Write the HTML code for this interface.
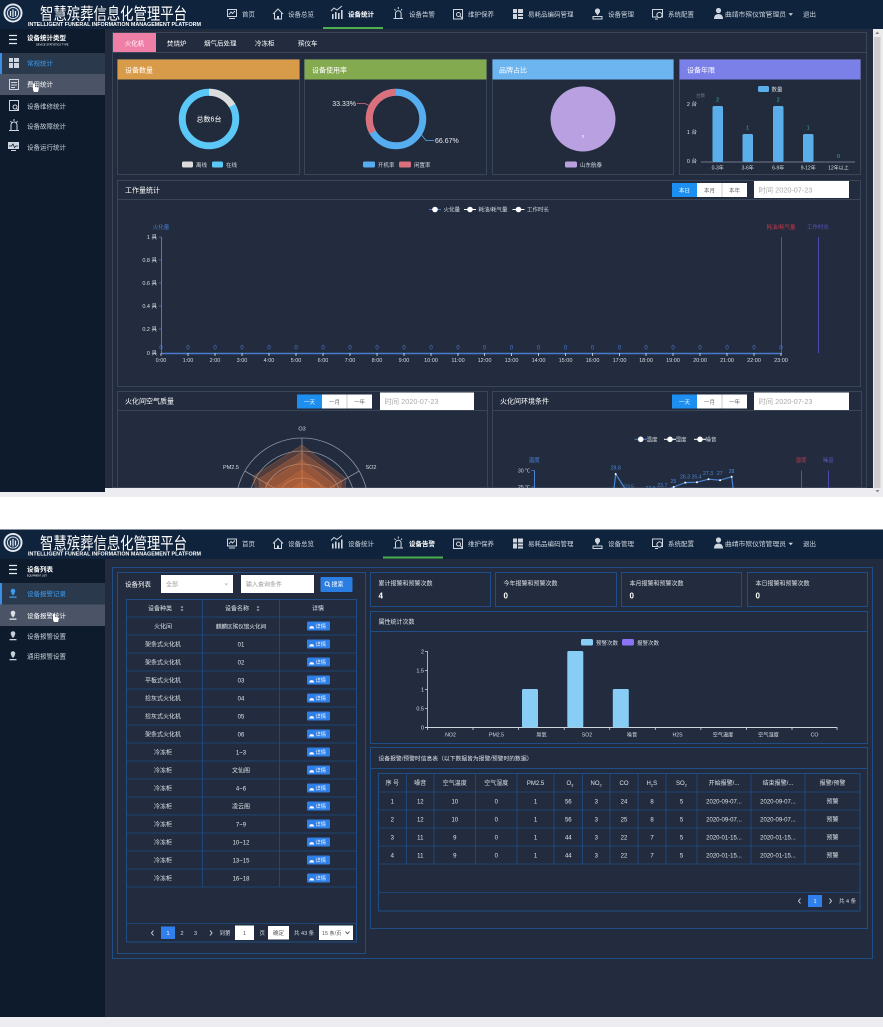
<!DOCTYPE html>
<html><head><meta charset="utf-8">
<style>
html,body{margin:0;padding:0;background:#fff;width:883px;height:1027px;overflow:hidden}
svg{display:block}
text{font-family:"Liberation Sans","Noto Sans CJK SC",sans-serif;font-size:6px;fill:#d6dce4}
.c{text-anchor:middle}.e{text-anchor:end}.w{fill:#fff}
.nav{font-size:6.5px;fill:#cfd6e0}
.ic{fill:none;stroke:#cfd6e0;stroke-width:1}
.icf{fill:#cfd6e0}
.b1{fill:none;stroke:#394658}
.b2{fill:none;stroke:#1f4e86}
.sm{font-size:5.5px}
.tb{font-size:6px;fill:#e0e4ea}
</style></head><body>
<svg width="883" height="1027" viewBox="0 0 883 1027" xmlns="http://www.w3.org/2000/svg">
<defs>
<clipPath id="c1"><rect x="105" y="29" width="768" height="459"/></clipPath>
</defs>
<rect width="883" height="1027" fill="#fff"/>

<!-- ================= SHOT 1 ================= -->
<g>
<rect x="0" y="0" width="883" height="29" fill="#0f233c"/>
<circle cx="13" cy="13" r="9.5" fill="#e6ebf1"/>
<circle cx="13" cy="13" r="7.6" fill="#1d3856"/>
<circle cx="13" cy="13" r="5.6" fill="none" stroke="#e6ebf1" stroke-width="0.9"/>
<path d="M10.5 16V11M13 17V9.5M15.5 16V11" stroke="#e6ebf1" stroke-width="1.2"/>
<text x="40" y="19.5" class="w" style="font-size:16.5px" textLength="147" lengthAdjust="spacingAndGlyphs">智慧殡葬信息化管理平台</text>
<text x="28" y="26" class="w" style="font-size:5.6px;font-weight:bold" textLength="173" lengthAdjust="spacingAndGlyphs">INTELLIGENT FUNERAL INFORMATION MANAGEMENT PLATFORM</text>
<!-- nav icons -->
<rect x="227.5" y="9.5" width="9" height="7" class="ic"/><polyline points="229,14.5 231,12 232.5,13.5 235,11" class="ic"/><line x1="229" y1="18.5" x2="235" y2="18.5" class="ic"/>
<path d="M273 14L278 9L283 14M274.5 13V19H281.5V13" class="ic"/><rect x="277" y="16" width="2" height="3" class="icf"/>
<path d="M331 11L334 8L337 10L342 6" class="ic"/><rect x="332" y="14" width="1.6" height="5" class="icf"/><rect x="335" y="12" width="1.6" height="7" class="icf"/><rect x="338" y="13" width="1.6" height="6" class="icf"/><rect x="341" y="10" width="1.6" height="9" class="icf"/>
<path d="M395.5 18V13.5A2.8 2.8 0 0 1 401.1 13.5V18M393.5 18.5H403M398.3 7V9M394.5 9L395.5 10.5M402 9L401 10.5" class="ic"/>
<rect x="453.5" y="9.5" width="9" height="9.5" class="ic"/><circle cx="458.5" cy="14.5" r="2" class="ic"/><line x1="460" y1="16" x2="462.5" y2="18.5" class="ic"/>
<rect x="513" y="9" width="4" height="4" class="icf"/><rect x="518" y="9" width="5" height="4" class="icf"/><rect x="513" y="14" width="4" height="5" class="icf"/><rect x="518" y="14" width="5" height="2" class="icf"/><rect x="518" y="17" width="5" height="2" class="icf"/>
<circle cx="597.5" cy="11" r="2.6" class="icf"/><path d="M595.3 12.3L597.5 15.5L599.7 12.3Z" class="icf"/><rect x="593" y="16.5" width="9" height="2.5" class="ic"/>
<rect x="652.5" y="9.5" width="10" height="7.5" class="ic"/><circle cx="659.5" cy="15" r="2.6" fill="#0f233c" stroke="#cfd6e0"/><line x1="655" y1="19" x2="658" y2="19" class="ic"/>
<circle cx="718.5" cy="10.5" r="2.6" class="icf"/><path d="M714 19Q714 14 718.5 14Q723 14 723 19Z" class="icf"/>
<text x="242" y="16.5" class="nav">首页</text>
<text x="288" y="16.5" class="nav">设备总览</text>
<text x="348" y="16.5" class="nav" style="fill:#fff;font-weight:bold">设备统计</text>
<text x="409" y="16.5" class="nav">设备告警</text>
<text x="468" y="16.5" class="nav">维护保养</text>
<text x="528" y="16.5" class="nav">易耗品编码管理</text>
<text x="608" y="16.5" class="nav">设备管理</text>
<text x="668" y="16.5" class="nav">系统配置</text>
<text x="725" y="16.5" class="nav" textLength="61" lengthAdjust="spacingAndGlyphs">曲靖市殡仪馆管理员</text>
<path d="M788.5 13.2H793L790.75 15.8Z" class="icf"/>
<text x="803" y="16.5" class="nav">退出</text>
<rect x="323" y="27" width="60" height="2" fill="#4caf50"/>

<!-- sidebar -->
<rect x="0" y="29" width="105" height="463" fill="#0d1b2d"/>
<path d="M9 35.5H17M9 39.5H17M9 43.5H17" stroke="#e6ebf1" stroke-width="1.2"/>
<text x="27" y="40" class="w" style="font-size:6.5px;font-weight:bold">设备统计类型</text>
<text x="36" y="45.5" class="w" style="font-size:2.6px">DEVICE STATISTICS TYPE</text>
<rect x="0" y="53" width="105" height="21" fill="#2a394c"/>
<rect x="0" y="53" width="2" height="21" fill="#3a8ee6"/>
<rect x="0" y="74" width="105" height="21" fill="#4b5366"/>
<rect x="9" y="58" width="4" height="4" class="icf"/><rect x="14" y="58" width="5" height="4" class="icf"/><rect x="9" y="63" width="4" height="5" class="icf"/><rect x="14" y="63" width="5" height="5" class="icf"/>
<text x="27" y="65.5" style="font-size:6.5px;fill:#3d9bf0">常规统计</text>
<rect x="9.5" y="79.5" width="9" height="10" class="ic"/><path d="M11 82.5H17M11 85H17M11 87.5H15" class="ic"/>
<text x="27" y="86.5" class="w" style="font-size:6.5px">费用统计</text>
<path d="M33 90V84.5a1 1 0 0 1 2 0V87l3 .5a1 1 0 0 1 .8 1.2L38 92H34Z" fill="#fff"/>
<rect x="9.5" y="100.5" width="9" height="10" class="ic"/><circle cx="15" cy="107" r="2" class="ic"/><line x1="16.3" y1="108.3" x2="18.5" y2="110.5" class="ic"/>
<text x="27" y="108.5" style="font-size:6.5px;fill:#c8d0da">设备维修统计</text>
<path d="M11 130V125A3 3 0 0 1 17 125V130M9 130.5H19M14 119V121M10.5 121L11.5 122.5M17.5 121L16.5 122.5" class="ic"/>
<text x="27" y="128.5" style="font-size:6.5px;fill:#c8d0da">设备故障统计</text>
<rect x="8" y="142" width="11" height="7" class="icf"/><polyline points="9,146 11.5,146 13,144 14.5,147.5 16,146 18,146" fill="none" stroke="#0d1b2d" stroke-width="0.8"/><line x1="11" y1="150.5" x2="16" y2="150.5" class="ic"/>
<text x="27" y="149.5" style="font-size:6.5px;fill:#c8d0da">设备运行统计</text>

<!-- main -->
<rect x="105" y="29" width="768" height="463" fill="#222c3e"/>
<rect x="112.5" y="32.5" width="754" height="455" class="b1"/>
<line x1="113" y1="52.5" x2="866" y2="52.5" stroke="#394658"/>
<rect x="113" y="33" width="43" height="19" fill="#f07fa7"/>
<text x="134.5" y="45.5" class="w c" style="font-size:6.5px">火化机</text>
<text x="167" y="45.5" class="w" style="font-size:6.5px">焚烧炉</text>
<text x="204" y="45.5" class="w" style="font-size:6.5px">烟气后处理</text>
<text x="255" y="45.5" class="w" style="font-size:6.5px">冷冻柜</text>
<text x="298" y="45.5" class="w" style="font-size:6.5px">殡仪车</text>

<!-- cards -->
<rect x="117.5" y="59.5" width="182" height="115" fill="#212b3c" stroke="#394658"/>
<rect x="117.5" y="59.5" width="182" height="20" fill="#d89b4a"/>
<text x="125" y="72.5" class="w" style="font-size:7px">设备数量</text>
<rect x="304.5" y="59.5" width="182" height="115" fill="#212b3c" stroke="#394658"/>
<rect x="304.5" y="59.5" width="182" height="20" fill="#84aa50"/>
<text x="312" y="72.5" class="w" style="font-size:7px">设备使用率</text>
<rect x="492.5" y="59.5" width="181" height="115" fill="#212b3c" stroke="#394658"/>
<rect x="492.5" y="59.5" width="181" height="20" fill="#6cb5f0"/>
<text x="499" y="72.5" class="w" style="font-size:7px">品牌占比</text>
<rect x="679.5" y="59.5" width="181" height="115" fill="#212b3c" stroke="#394658"/>
<rect x="679.5" y="59.5" width="181" height="20" fill="#7b7fe8"/>
<text x="687" y="72.5" class="w" style="font-size:7px">设备年限</text>

<!-- donut 1 -->
<circle cx="209" cy="119" r="26.75" fill="none" stroke="#5bc8f8" stroke-width="7"/>
<circle cx="209" cy="119" r="26.75" fill="none" stroke="#dcdcdc" stroke-width="7" stroke-dasharray="28.01 200" transform="rotate(-90 209 119)"/>
<text x="209" y="121.5" class="w c" style="font-size:7px">总数6台</text>
<rect x="182" y="161.5" width="11" height="6" rx="1.5" fill="#dcdcdc"/><text x="196" y="167" class="sm">离线</text>
<rect x="212" y="161.5" width="11" height="6" rx="1.5" fill="#5bc8f8"/><text x="226" y="167" class="sm">在线</text>

<!-- donut 2 -->
<circle cx="396" cy="119" r="26.75" fill="none" stroke="#56aef0" stroke-width="7"/>
<circle cx="396" cy="119" r="26.75" fill="none" stroke="#d9707c" stroke-width="7" stroke-dasharray="56.03 200" stroke-dashoffset="-112.05" transform="rotate(-90 396 119)"/>
<polyline points="357,103.5 365,103.5 371,106.5" fill="none" stroke="#d9707c" stroke-width="0.8"/>
<text x="356" y="106" class="e" style="font-size:7px;fill:#e6e9ee">33.33%</text>
<polyline points="419.5,132.5 426,140.5 434,140.5" fill="none" stroke="#56aef0" stroke-width="0.8"/>
<text x="435" y="143" style="font-size:7px;fill:#e6e9ee">66.67%</text>
<rect x="363" y="161.5" width="12" height="6" rx="1.5" fill="#56aef0"/><text x="378" y="167" class="sm">开机率</text>
<rect x="399" y="161.5" width="12" height="6" rx="1.5" fill="#d9707c"/><text x="414" y="167" class="sm">闲置率</text>

<!-- pie -->
<circle cx="583" cy="119" r="32.5" fill="#b9a1e1"/>
<text x="583" y="137.5" class="w c" style="font-size:4px">6</text>
<rect x="565" y="161.5" width="12" height="6" rx="1.5" fill="#b9a1e1"/><text x="580" y="167" class="sm">山东航泰</text>

<!-- bar card -->
<rect x="758" y="86" width="11" height="6" rx="1.5" fill="#5aaeea"/><text x="771.5" y="91.5" class="sm">数量</text>
<text x="696" y="97" class="sm" style="fill:#6a7585;font-size:4.5px">台数</text>
<text x="697" y="106" class="e sm">2 台</text>
<text x="697" y="134" class="e sm">1 台</text>
<text x="697" y="163" class="e sm">0 台</text>
<line x1="701" y1="162" x2="855" y2="162" stroke="#8a96a6" stroke-width="0.8"/>
<rect x="712.5" y="106" width="10.5" height="56" rx="1.5" fill="#5aaeea"/>
<rect x="742.5" y="134" width="10.5" height="28" rx="1.5" fill="#5aaeea"/>
<rect x="773" y="106" width="10.5" height="56" rx="1.5" fill="#5aaeea"/>
<rect x="803" y="134" width="10.5" height="28" rx="1.5" fill="#5aaeea"/>
<text x="717.7" y="101.5" class="c sm" style="fill:#36b3a0">2</text>
<text x="747.7" y="129.5" class="c sm" style="fill:#36b3a0">1</text>
<text x="778.2" y="101.5" class="c sm" style="fill:#36b3a0">2</text>
<text x="808.2" y="129.5" class="c sm" style="fill:#36b3a0">1</text>
<text x="838.5" y="158" class="c sm" style="fill:#36b3a0">0</text>
<text x="717.7" y="169.5" class="c" style="font-size:5px">0-3年</text>
<text x="747.7" y="169.5" class="c" style="font-size:5px">3-6年</text>
<text x="778.2" y="169.5" class="c" style="font-size:5px">6-9年</text>
<text x="808.2" y="169.5" class="c" style="font-size:5px">9-12年</text>
<text x="838.5" y="169.5" class="c" style="font-size:5px">12年以上</text>

<!-- work chart -->
<rect x="117.5" y="180.5" width="743" height="206" class="b1"/>
<line x1="118" y1="199.5" x2="860" y2="199.5" stroke="#394658"/>
<text x="125" y="192.5" class="w" style="font-size:7px">工作量统计</text>
<rect x="672" y="183" width="25" height="14" fill="#1d8ff0"/>
<rect x="697" y="183" width="50" height="14" fill="#fff"/>
<line x1="722" y1="183" x2="722" y2="197" stroke="#ccc"/>
<text x="684.5" y="192.3" class="w c sm">本日</text>
<text x="709.5" y="192.3" class="c sm" style="fill:#666">本月</text>
<text x="734.5" y="192.3" class="c sm" style="fill:#666">本年</text>
<rect x="754" y="181" width="95" height="17" fill="#fff"/>
<text x="758.5" y="192.5" style="font-size:7px;fill:#aaa" textLength="54" lengthAdjust="spacingAndGlyphs">时间 2020-07-23</text>
<!-- legend -->
<line x1="429" y1="209.5" x2="441" y2="209.5" stroke="#4a7ad0" stroke-width="1"/><circle cx="435" cy="209.5" r="2.8" fill="#fff"/><text x="443.5" y="211.5" class="sm">火化量</text>
<line x1="464" y1="209.5" x2="476" y2="209.5" stroke="#fff" stroke-width="1"/><circle cx="470" cy="209.5" r="2.8" fill="#fff"/><text x="478.5" y="211.5" class="sm">耗油/耗气量</text>
<line x1="512.5" y1="209.5" x2="524.5" y2="209.5" stroke="#fff" stroke-width="1"/><circle cx="518.5" cy="209.5" r="2.8" fill="#fff"/><text x="527" y="211.5" class="sm">工作时长</text>
<text x="161" y="229" class="c sm" style="fill:#4a7ad0">火化量</text>
<text x="781" y="229" class="c sm" style="fill:#c0394a">耗油/耗气量</text>
<text x="818" y="229" class="c sm" style="fill:#5a55c0">工作时长</text>
<line x1="161.5" y1="237" x2="161.5" y2="353" stroke="#4a7ad0"/>
<line x1="781.5" y1="237" x2="781.5" y2="353" stroke="#a8384a"/>
<line x1="818.5" y1="237" x2="818.5" y2="353" stroke="#4a4aa8"/>
<g>
<text x="157" y="239" class="e sm">1 具</text>
<text x="157" y="262" class="e sm">0.8 具</text>
<text x="157" y="285" class="e sm">0.6 具</text>
<text x="157" y="308" class="e sm">0.4 具</text>
<text x="157" y="331" class="e sm">0.2 具</text>
<text x="157" y="355" class="e sm">0 具</text>
</g>
<path d="M159 237H161.5M159 260H161.5M159 283H161.5M159 306H161.5M159 329H161.5" stroke="#4a7ad0" stroke-width="0.8"/>
<line x1="161" y1="353.5" x2="782" y2="353.5" stroke="#4a7ad0" stroke-width="1.5"/>
<path d="M161 353V356M188 353V356M215 353V356M242 353V356M269 353V356M296 353V356M323 353V356M350 353V356M377 353V356M404 353V356M431 353V356M458 353V356M484.5 353V356M511.5 353V356M538.5 353V356M565.5 353V356M592.5 353V356M619.5 353V356M646 353V356M673 353V356M700 353V356M727 353V356M754 353V356M781 353V356" stroke="#e0e4ea" stroke-width="0.8"/>
<g>
<text x="161" y="362" class="c sm">0:00</text><text x="188" y="362" class="c sm">1:00</text><text x="215" y="362" class="c sm">2:00</text><text x="242" y="362" class="c sm">3:00</text><text x="269" y="362" class="c sm">4:00</text><text x="296" y="362" class="c sm">5:00</text><text x="323" y="362" class="c sm">6:00</text><text x="350" y="362" class="c sm">7:00</text><text x="377" y="362" class="c sm">8:00</text><text x="404" y="362" class="c sm">9:00</text><text x="431" y="362" class="c sm">10:00</text><text x="458" y="362" class="c sm">11:00</text><text x="484.5" y="362" class="c sm">12:00</text><text x="511.5" y="362" class="c sm">13:00</text><text x="538.5" y="362" class="c sm">14:00</text><text x="565.5" y="362" class="c sm">15:00</text><text x="592.5" y="362" class="c sm">16:00</text><text x="619.5" y="362" class="c sm">17:00</text><text x="646" y="362" class="c sm">18:00</text><text x="673" y="362" class="c sm">19:00</text><text x="700" y="362" class="c sm">20:00</text><text x="727" y="362" class="c sm">21:00</text><text x="754" y="362" class="c sm">22:00</text><text x="781" y="362" class="c sm">23:00</text>
</g>
<g>
<text x="161" y="349.5" class="c" style="fill:#4a7ad0">0</text><text x="188" y="349.5" class="c" style="fill:#4a7ad0">0</text><text x="215" y="349.5" class="c" style="fill:#4a7ad0">0</text><text x="242" y="349.5" class="c" style="fill:#4a7ad0">0</text><text x="269" y="349.5" class="c" style="fill:#4a7ad0">0</text><text x="296" y="349.5" class="c" style="fill:#4a7ad0">0</text><text x="323" y="349.5" class="c" style="fill:#4a7ad0">0</text><text x="350" y="349.5" class="c" style="fill:#4a7ad0">0</text><text x="377" y="349.5" class="c" style="fill:#4a7ad0">0</text><text x="404" y="349.5" class="c" style="fill:#4a7ad0">0</text><text x="431" y="349.5" class="c" style="fill:#4a7ad0">0</text><text x="458" y="349.5" class="c" style="fill:#4a7ad0">0</text><text x="484.5" y="349.5" class="c" style="fill:#4a7ad0">0</text><text x="511.5" y="349.5" class="c" style="fill:#4a7ad0">0</text><text x="538.5" y="349.5" class="c" style="fill:#4a7ad0">0</text><text x="565.5" y="349.5" class="c" style="fill:#4a7ad0">0</text><text x="592.5" y="349.5" class="c" style="fill:#4a7ad0">0</text><text x="619.5" y="349.5" class="c" style="fill:#4a7ad0">0</text><text x="646" y="349.5" class="c" style="fill:#4a7ad0">0</text><text x="673" y="349.5" class="c" style="fill:#4a7ad0">0</text><text x="700" y="349.5" class="c" style="fill:#4a7ad0">0</text><text x="727" y="349.5" class="c" style="fill:#4a7ad0">0</text><text x="754" y="349.5" class="c" style="fill:#4a7ad0">0</text><text x="781" y="349.5" class="c" style="fill:#4a7ad0">0</text>
</g>

<!-- bottom panels -->
<g clip-path="url(#c1)">
<rect x="117.5" y="391.5" width="370" height="110" class="b1"/>
<line x1="118" y1="410.5" x2="487" y2="410.5" stroke="#394658"/>
<text x="125" y="403.5" class="w" style="font-size:7px">火化间空气质量</text>
<rect x="297" y="394.5" width="25" height="14" fill="#1d8ff0"/>
<rect x="322" y="394.5" width="50" height="14" fill="#fff"/>
<line x1="347" y1="394.5" x2="347" y2="408.5" stroke="#ccc"/>
<text x="309.5" y="403.8" class="w c sm">一天</text>
<text x="334.5" y="403.8" class="c sm" style="fill:#666">一月</text>
<text x="359.5" y="403.8" class="c sm" style="fill:#666">一年</text>
<rect x="380" y="392.5" width="94" height="17.5" fill="#fff"/>
<text x="384.5" y="404" style="font-size:7px;fill:#aaa" textLength="54" lengthAdjust="spacingAndGlyphs">时间 2020-07-23</text>

<rect x="492.5" y="391.5" width="369" height="110" class="b1"/>
<line x1="493" y1="410.5" x2="861" y2="410.5" stroke="#394658"/>
<text x="500" y="403.5" class="w" style="font-size:7px">火化间环境条件</text>
<rect x="672" y="394.5" width="25" height="14" fill="#1d8ff0"/>
<rect x="697" y="394.5" width="50" height="14" fill="#fff"/>
<line x1="722" y1="394.5" x2="722" y2="408.5" stroke="#ccc"/>
<text x="684.5" y="403.8" class="w c sm">一天</text>
<text x="709.5" y="403.8" class="c sm" style="fill:#666">一月</text>
<text x="734.5" y="403.8" class="c sm" style="fill:#666">一年</text>
<rect x="754" y="392.5" width="95" height="17.5" fill="#fff"/>
<text x="758.5" y="404" style="font-size:7px;fill:#aaa" textLength="54" lengthAdjust="spacingAndGlyphs">时间 2020-07-23</text>

<!-- radar -->
<g fill="none" stroke="#8a94a3" stroke-width="0.8">
<circle cx="302" cy="504" r="66"/><circle cx="302" cy="504" r="53"/><circle cx="302" cy="504" r="40"/><circle cx="302" cy="504" r="26"/><circle cx="302" cy="504" r="13"/>
<path d="M302 504V438M302 504L359.2 471M302 504L244.8 471"/>
</g>
<g fill="#e5733a" fill-opacity="0.26" stroke="#e88046" stroke-opacity="0.5" stroke-width="0.5">
<polygon points="302,445 346.2,478.5 341,526.5 302,544 260.4,528 253.5,476"/>
<polygon points="302,452 341.8,481 336.6,524 302,539 265.6,525 258.7,479"/>
<polygon points="302,460 334.9,485 331.4,521 302,534 270.8,522 265.6,483"/>
<polygon points="302,470 328,489 325.4,517.5 302,528 277.8,518 274.3,488"/>
<polygon points="302,482 319.3,494 317.6,513 302,520 286.4,513 283.8,493.5"/>
<polygon points="302,492 311.5,498.5 310.7,509 302,513 293.3,509 292.5,498.5"/>
</g>
<text x="302" y="430.5" class="c sm">O3</text>
<text x="231" y="469" class="c sm">PM2.5</text>
<text x="371" y="469" class="c sm">SO2</text>

<!-- env line chart -->
<line x1="634.7" y1="439.3" x2="646.7" y2="439.3" stroke="#4a86d8"/><circle cx="640.7" cy="439.3" r="2.8" fill="#fff"/><text x="646.5" y="441.3" class="sm">温度</text>
<line x1="664" y1="439.3" x2="676" y2="439.3" stroke="#fff"/><circle cx="670" cy="439.3" r="2.8" fill="#fff"/><text x="675.5" y="441.3" class="sm">湿度</text>
<line x1="694" y1="439.3" x2="706" y2="439.3" stroke="#fff"/><circle cx="700" cy="439.3" r="2.8" fill="#fff"/><text x="705.5" y="441.3" class="sm">噪音</text>
<text x="534.3" y="462" class="c sm" style="fill:#4a86d8">温度</text>
<text x="801" y="462" class="c sm" style="fill:#c0394a">湿度</text>
<text x="828.3" y="462" class="c sm" style="fill:#5a55c0">噪音</text>
<line x1="534.5" y1="470.5" x2="534.5" y2="495" stroke="#4a86d8"/>
<line x1="801.5" y1="470.5" x2="801.5" y2="495" stroke="#a8384a"/>
<line x1="828.5" y1="470.5" x2="828.5" y2="495" stroke="#4a4aa8"/>
<path d="M531.5 470.5H534.5M531.5 487H534.5" stroke="#4a86d8" stroke-width="0.8"/>
<text x="530" y="472.3" class="e" style="font-size:5px">30 ℃</text>
<text x="530" y="489" class="e" style="font-size:5px">25 ℃</text>
<polyline points="604.1,572 615.7,474.1 627.3,492.1 638.9,495.5 650.5,494 662.1,491.4 673.7,487 685.3,482.6 696.9,482.2 708.5,479.2 720.1,480.2 731.7,476.8 743.3,572" fill="none" stroke="#4a86d8" stroke-width="1.2"/>
<g fill="#fff"><circle cx="615.7" cy="474.1" r="1"/><circle cx="673.7" cy="487" r="1"/><circle cx="685.3" cy="482.6" r="1"/><circle cx="696.9" cy="482.2" r="1"/><circle cx="708.5" cy="479.2" r="1"/><circle cx="720.1" cy="480.2" r="1"/><circle cx="731.7" cy="476.8" r="1"/></g>
<g>
<text x="615.7" y="469.5" class="c" style="font-size:5.2px;fill:#4a86d8">28.8</text>
<text x="629" y="488.5" class="c" style="font-size:5.2px;fill:#4a86d8">23.5</text>
<text x="650.5" y="490" class="c" style="font-size:5.2px;fill:#4a86d8">22.9</text>
<text x="662.3" y="487" class="c" style="font-size:5.2px;fill:#4a86d8">23.7</text>
<text x="673.5" y="483" class="c" style="font-size:5.2px;fill:#4a86d8">25</text>
<text x="685" y="478.5" class="c" style="font-size:5.2px;fill:#4a86d8">26.3</text>
<text x="696.5" y="478.5" class="c" style="font-size:5.2px;fill:#4a86d8">26.4</text>
<text x="708" y="475" class="c" style="font-size:5.2px;fill:#4a86d8">27.3</text>
<text x="719.8" y="475" class="c" style="font-size:5.2px;fill:#4a86d8">27</text>
<text x="731.5" y="473" class="c" style="font-size:5.2px;fill:#4a86d8">28</text>
</g>
</g>

<!-- scrollbars -->
<rect x="873" y="29" width="10" height="459" fill="#ececec"/>
<rect x="874" y="37" width="6.5" height="451" fill="#cdcdcd"/>
<path d="M875.3 34L877.3 31.5L879.3 34Z" fill="#888"/>
<rect x="105" y="488" width="778" height="9" fill="#ececf1"/>
<rect x="0" y="492" width="105" height="5" fill="#ececf1"/>
<path d="M875.5 490L879.5 490L877.5 492.5Z" fill="#888"/>
</g>

<!-- ================= SHOT 2 ================= -->
<g transform="translate(0,529.5)">
<rect x="0" y="0" width="883" height="29.5" fill="#0f233c"/>
<circle cx="13" cy="13" r="9.5" fill="#e6ebf1"/>
<circle cx="13" cy="13" r="7.6" fill="#1d3856"/>
<circle cx="13" cy="13" r="5.6" fill="none" stroke="#e6ebf1" stroke-width="0.9"/>
<path d="M10.5 16V11M13 17V9.5M15.5 16V11" stroke="#e6ebf1" stroke-width="1.2"/>
<text x="40" y="19.5" class="w" style="font-size:16.5px" textLength="147" lengthAdjust="spacingAndGlyphs">智慧殡葬信息化管理平台</text>
<text x="28" y="26" class="w" style="font-size:5.6px;font-weight:bold" textLength="173" lengthAdjust="spacingAndGlyphs">INTELLIGENT FUNERAL INFORMATION MANAGEMENT PLATFORM</text>
<rect x="227.5" y="9.5" width="9" height="7" class="ic"/><polyline points="229,14.5 231,12 232.5,13.5 235,11" class="ic"/><line x1="229" y1="18.5" x2="235" y2="18.5" class="ic"/>
<path d="M273 14L278 9L283 14M274.5 13V19H281.5V13" class="ic"/><rect x="277" y="16" width="2" height="3" class="icf"/>
<path d="M331 11L334 8L337 10L342 6" class="ic"/><rect x="332" y="14" width="1.6" height="5" class="icf"/><rect x="335" y="12" width="1.6" height="7" class="icf"/><rect x="338" y="13" width="1.6" height="6" class="icf"/><rect x="341" y="10" width="1.6" height="9" class="icf"/>
<path d="M395.5 18V13.5A2.8 2.8 0 0 1 401.1 13.5V18M393.5 18.5H403M398.3 7V9M394.5 9L395.5 10.5M402 9L401 10.5" class="ic"/>
<rect x="453.5" y="9.5" width="9" height="9.5" class="ic"/><circle cx="458.5" cy="14.5" r="2" class="ic"/><line x1="460" y1="16" x2="462.5" y2="18.5" class="ic"/>
<rect x="513" y="9" width="4" height="4" class="icf"/><rect x="518" y="9" width="5" height="4" class="icf"/><rect x="513" y="14" width="4" height="5" class="icf"/><rect x="518" y="14" width="5" height="2" class="icf"/><rect x="518" y="17" width="5" height="2" class="icf"/>
<circle cx="597.5" cy="11" r="2.6" class="icf"/><path d="M595.3 12.3L597.5 15.5L599.7 12.3Z" class="icf"/><rect x="593" y="16.5" width="9" height="2.5" class="ic"/>
<rect x="652.5" y="9.5" width="10" height="7.5" class="ic"/><circle cx="659.5" cy="15" r="2.6" fill="#0f233c" stroke="#cfd6e0"/><line x1="655" y1="19" x2="658" y2="19" class="ic"/>
<circle cx="718.5" cy="10.5" r="2.6" class="icf"/><path d="M714 19Q714 14 718.5 14Q723 14 723 19Z" class="icf"/>
<text x="242" y="16.5" class="nav">首页</text>
<text x="288" y="16.5" class="nav">设备总览</text>
<text x="348" y="16.5" class="nav">设备统计</text>
<text x="409" y="16.5" class="nav" style="fill:#fff;font-weight:bold">设备告警</text>
<text x="468" y="16.5" class="nav">维护保养</text>
<text x="528" y="16.5" class="nav">易耗品编码管理</text>
<text x="608" y="16.5" class="nav">设备管理</text>
<text x="668" y="16.5" class="nav">系统配置</text>
<text x="725" y="16.5" class="nav" textLength="61" lengthAdjust="spacingAndGlyphs">曲靖市殡仪馆管理员</text>
<path d="M788.5 13.2H793L790.75 15.8Z" class="icf"/>
<text x="803" y="16.5" class="nav">退出</text>
<rect x="383" y="27" width="60" height="2" fill="#4caf50"/>
</g>

<!-- sidebar 2 -->
<rect x="0" y="559" width="105" height="458" fill="#0d1b2d"/>
<path d="M9 565.5H17M9 569.5H17M9 573.5H17" stroke="#e6ebf1" stroke-width="1.2"/>
<text x="27" y="571.5" class="w" style="font-size:6.5px;font-weight:bold">设备列表</text>
<text x="27" y="576.5" class="w" style="font-size:2.4px">EQUIPMENT LIST</text>
<rect x="0" y="583" width="105" height="21.5" fill="#2a394c"/>
<rect x="0" y="583" width="2" height="21.5" fill="#3a8ee6"/>
<rect x="0" y="604.5" width="105" height="21.5" fill="#4b5366"/>
<circle cx="13" cy="591" r="2.3" fill="#3d9bf0"/><path d="M11 593L13 595.5L15 593Z" fill="#3d9bf0"/><rect x="9.5" y="596.5" width="7" height="1.3" fill="#3d9bf0"/>
<text x="27" y="596" style="font-size:6.5px;fill:#3d9bf0">设备报警记录</text>
<circle cx="13" cy="613" r="2.3" fill="#e0e4ea"/><path d="M11 615L13 617.5L15 615Z" fill="#e0e4ea"/><rect x="9.5" y="618.5" width="7" height="1.3" fill="#e0e4ea"/>
<text x="27" y="618" class="w" style="font-size:6.5px">设备报警统计</text>
<path d="M53 620V614.5a1 1 0 0 1 2 0V617l3 .5a1 1 0 0 1 .8 1.2L58 622H54Z" fill="#fff"/>
<circle cx="13" cy="633.5" r="2.3" fill="#c8d0da"/><path d="M11 635.5L13 638L15 635.5Z" fill="#c8d0da"/><rect x="9.5" y="639" width="7" height="1.3" fill="#c8d0da"/>
<text x="27" y="638.5" style="font-size:6.5px;fill:#c8d0da">设备报警设置</text>
<circle cx="13" cy="653.5" r="2.3" fill="#c8d0da"/><path d="M11 655.5L13 658L15 655.5Z" fill="#c8d0da"/><rect x="9.5" y="659" width="7" height="1.3" fill="#c8d0da"/>
<text x="27" y="658.5" style="font-size:6.5px;fill:#c8d0da">通用报警设置</text>

<!-- main 2 -->
<rect x="105" y="559" width="778" height="458" fill="#222c3e"/>
<rect x="112.5" y="567.5" width="760" height="391" class="b2"/>
<rect x="117.5" y="572.5" width="248" height="381" class="b2"/>

<text x="125" y="586.5" class="w" style="font-size:6.5px">设备列表</text>
<rect x="161" y="575" width="72" height="18" fill="#fff"/>
<text x="166" y="586.5" style="font-size:6px;fill:#999">全部</text>
<path d="M224.5 583.5H228L226.25 585.5Z" fill="#bbb"/>
<rect x="241" y="575" width="73" height="18" fill="#fff"/>
<text x="246" y="586.5" style="font-size:6px;fill:#999">输入查询条件</text>
<rect x="320.5" y="577" width="32" height="15" fill="#2a7de1" rx="1"/>
<circle cx="327" cy="583.8" r="2" fill="none" stroke="#fff" stroke-width="0.9"/><line x1="328.4" y1="585.2" x2="330" y2="586.8" stroke="#fff" stroke-width="0.9"/>
<text x="331.5" y="586.5" class="w" style="font-size:6px">搜索</text>

<!-- left table -->
<rect x="126.5" y="599.5" width="230" height="342.5" class="b2"/>
<g stroke="#1f4e86" stroke-width="0.8">
<line x1="202.5" y1="600" x2="202.5" y2="887"/><line x1="279.5" y1="600" x2="279.5" y2="887"/>
<line x1="127" y1="617" x2="356" y2="617"/><line x1="127" y1="635" x2="356" y2="635"/><line x1="127" y1="653" x2="356" y2="653"/><line x1="127" y1="671" x2="356" y2="671"/><line x1="127" y1="689" x2="356" y2="689"/><line x1="127" y1="707" x2="356" y2="707"/><line x1="127" y1="725" x2="356" y2="725"/><line x1="127" y1="743" x2="356" y2="743"/><line x1="127" y1="761" x2="356" y2="761"/><line x1="127" y1="779" x2="356" y2="779"/><line x1="127" y1="797" x2="356" y2="797"/><line x1="127" y1="815" x2="356" y2="815"/><line x1="127" y1="833" x2="356" y2="833"/><line x1="127" y1="851" x2="356" y2="851"/><line x1="127" y1="869" x2="356" y2="869"/><line x1="127" y1="887" x2="356" y2="887"/>
<line x1="127" y1="923.5" x2="356" y2="923.5"/>
</g>
<text x="160" y="610.5" class="c tb">设备种类</text><path d="M180.5 607.5L182 606L183.5 607.5ZM180.5 609.5L182 611L183.5 609.5Z" fill="#c8d0da"/>
<text x="237" y="610.5" class="c tb">设备名称</text><path d="M256.5 607.5L258 606L259.5 607.5ZM256.5 609.5L258 611L259.5 609.5Z" fill="#c8d0da"/>
<text x="318" y="610.5" class="c tb">详情</text>
<g>
<text x="163" y="628.3" class="c tb">火化间</text><text x="241" y="628.3" class="c tb" style="font-size:5.6px">麒麟区殡仪馆火化间</text>
<text x="163" y="646.3" class="c tb">架条式火化机</text><text x="241" y="646.3" class="c tb">01</text>
<text x="163" y="664.3" class="c tb">架条式火化机</text><text x="241" y="664.3" class="c tb">02</text>
<text x="163" y="682.3" class="c tb">平板式火化机</text><text x="241" y="682.3" class="c tb">03</text>
<text x="163" y="700.3" class="c tb">捡灰式火化机</text><text x="241" y="700.3" class="c tb">04</text>
<text x="163" y="718.3" class="c tb">捡灰式火化机</text><text x="241" y="718.3" class="c tb">05</text>
<text x="163" y="736.3" class="c tb">架条式火化机</text><text x="241" y="736.3" class="c tb">06</text>
<text x="163" y="754.3" class="c tb">冷冻柜</text><text x="241" y="754.3" class="c tb">1~3</text>
<text x="163" y="772.3" class="c tb">冷冻柜</text><text x="241" y="772.3" class="c tb">文仙阁</text>
<text x="163" y="790.3" class="c tb">冷冻柜</text><text x="241" y="790.3" class="c tb">4~6</text>
<text x="163" y="808.3" class="c tb">冷冻柜</text><text x="241" y="808.3" class="c tb">凌云阁</text>
<text x="163" y="826.3" class="c tb">冷冻柜</text><text x="241" y="826.3" class="c tb">7~9</text>
<text x="163" y="844.3" class="c tb">冷冻柜</text><text x="241" y="844.3" class="c tb">10~12</text>
<text x="163" y="862.3" class="c tb">冷冻柜</text><text x="241" y="862.3" class="c tb">13~15</text>
<text x="163" y="880.3" class="c tb">冷冻柜</text><text x="241" y="880.3" class="c tb">16~18</text>
</g>
<g>
<rect x="307" y="621.5" width="23" height="9" rx="1" fill="#2e7fe8"/><rect x="307" y="639.5" width="23" height="9" rx="1" fill="#2e7fe8"/><rect x="307" y="657.5" width="23" height="9" rx="1" fill="#2e7fe8"/><rect x="307" y="675.5" width="23" height="9" rx="1" fill="#2e7fe8"/><rect x="307" y="693.5" width="23" height="9" rx="1" fill="#2e7fe8"/><rect x="307" y="711.5" width="23" height="9" rx="1" fill="#2e7fe8"/><rect x="307" y="729.5" width="23" height="9" rx="1" fill="#2e7fe8"/><rect x="307" y="747.5" width="23" height="9" rx="1" fill="#2e7fe8"/><rect x="307" y="765.5" width="23" height="9" rx="1" fill="#2e7fe8"/><rect x="307" y="783.5" width="23" height="9" rx="1" fill="#2e7fe8"/><rect x="307" y="801.5" width="23" height="9" rx="1" fill="#2e7fe8"/><rect x="307" y="819.5" width="23" height="9" rx="1" fill="#2e7fe8"/><rect x="307" y="837.5" width="23" height="9" rx="1" fill="#2e7fe8"/><rect x="307" y="855.5" width="23" height="9" rx="1" fill="#2e7fe8"/><rect x="307" y="873.5" width="23" height="9" rx="1" fill="#2e7fe8"/>
</g>
<g fill="#fff">
<path d="M309.3 628.5a2.4 2.4 0 0 1 4.8 0z"/><path d="M309.3 646.5a2.4 2.4 0 0 1 4.8 0z"/><path d="M309.3 664.5a2.4 2.4 0 0 1 4.8 0z"/><path d="M309.3 682.5a2.4 2.4 0 0 1 4.8 0z"/><path d="M309.3 700.5a2.4 2.4 0 0 1 4.8 0z"/><path d="M309.3 718.5a2.4 2.4 0 0 1 4.8 0z"/><path d="M309.3 736.5a2.4 2.4 0 0 1 4.8 0z"/><path d="M309.3 754.5a2.4 2.4 0 0 1 4.8 0z"/><path d="M309.3 772.5a2.4 2.4 0 0 1 4.8 0z"/><path d="M309.3 790.5a2.4 2.4 0 0 1 4.8 0z"/><path d="M309.3 808.5a2.4 2.4 0 0 1 4.8 0z"/><path d="M309.3 826.5a2.4 2.4 0 0 1 4.8 0z"/><path d="M309.3 844.5a2.4 2.4 0 0 1 4.8 0z"/><path d="M309.3 862.5a2.4 2.4 0 0 1 4.8 0z"/><path d="M309.3 880.5a2.4 2.4 0 0 1 4.8 0z"/>
</g>
<g>
<text x="315.5" y="628.2" class="w" style="font-size:5.2px">详情</text><text x="315.5" y="646.2" class="w" style="font-size:5.2px">详情</text><text x="315.5" y="664.2" class="w" style="font-size:5.2px">详情</text><text x="315.5" y="682.2" class="w" style="font-size:5.2px">详情</text><text x="315.5" y="700.2" class="w" style="font-size:5.2px">详情</text><text x="315.5" y="718.2" class="w" style="font-size:5.2px">详情</text><text x="315.5" y="736.2" class="w" style="font-size:5.2px">详情</text><text x="315.5" y="754.2" class="w" style="font-size:5.2px">详情</text><text x="315.5" y="772.2" class="w" style="font-size:5.2px">详情</text><text x="315.5" y="790.2" class="w" style="font-size:5.2px">详情</text><text x="315.5" y="808.2" class="w" style="font-size:5.2px">详情</text><text x="315.5" y="826.2" class="w" style="font-size:5.2px">详情</text><text x="315.5" y="844.2" class="w" style="font-size:5.2px">详情</text><text x="315.5" y="862.2" class="w" style="font-size:5.2px">详情</text><text x="315.5" y="880.2" class="w" style="font-size:5.2px">详情</text>
</g>
<!-- left pagination -->
<path d="M153.5 930.5L151.5 933L153.5 935.5" fill="none" stroke="#d6dce4" stroke-width="0.9"/>
<rect x="161" y="926.5" width="14" height="12.5" fill="#2f80ed"/>
<text x="168" y="935" class="w c" style="font-size:5.5px">1</text>
<text x="182" y="935" class="c" style="font-size:5.5px">2</text>
<text x="195.5" y="935" class="c" style="font-size:5.5px">3</text>
<path d="M210 930.5L212 933L210 935.5" fill="none" stroke="#d6dce4" stroke-width="0.9"/>
<text x="219.5" y="935" style="font-size:5.5px">到第</text>
<rect x="235" y="925.5" width="19" height="14.5" fill="#fff"/>
<text x="244.5" y="935" class="c" style="font-size:5.5px;fill:#555">1</text>
<text x="259.5" y="935" style="font-size:5.5px">页</text>
<rect x="268" y="926" width="21" height="13.5" fill="#fff"/>
<text x="278.5" y="935" class="c" style="font-size:5.5px;fill:#555">确定</text>
<text x="294" y="935" style="font-size:5.5px">共 43 条</text>
<rect x="319" y="925.5" width="34" height="14.5" fill="#fff"/>
<text x="322" y="935" style="font-size:5.3px;fill:#555">15 条/页</text>
<path d="M345.5 931.5L347.5 933.8L349.5 931.5" fill="none" stroke="#555" stroke-width="0.9"/>

<!-- stat cards -->
<rect x="370.5" y="572.5" width="120" height="34" class="b2"/>
<rect x="495.5" y="572.5" width="121" height="34" class="b2"/>
<rect x="621.5" y="572.5" width="120" height="34" class="b2"/>
<rect x="747.5" y="572.5" width="120" height="34" class="b2"/>
<text x="378.5" y="585.5" class="tb">累计报警和预警次数</text><text x="378.5" y="598.5" class="w" style="font-size:8px;font-weight:bold">4</text>
<text x="503.5" y="585.5" class="tb">今年报警和预警次数</text><text x="503.5" y="598.5" class="w" style="font-size:8px;font-weight:bold">0</text>
<text x="629.5" y="585.5" class="tb">本月报警和预警次数</text><text x="629.5" y="598.5" class="w" style="font-size:8px;font-weight:bold">0</text>
<text x="755.5" y="585.5" class="tb">本日报警和预警次数</text><text x="755.5" y="598.5" class="w" style="font-size:8px;font-weight:bold">0</text>

<!-- attribute chart -->
<rect x="370.5" y="611.5" width="497" height="132" class="b2"/>
<line x1="371" y1="631.5" x2="867" y2="631.5" stroke="#1f4e86"/>
<text x="378.5" y="623.8" class="tb">属性统计次数</text>
<rect x="581" y="639" width="12" height="6.5" rx="1.5" fill="#88cdf6"/><text x="596" y="644.8" class="sm">预警次数</text>
<rect x="622" y="639" width="12" height="6.5" rx="1.5" fill="#8b73f5"/><text x="637" y="644.8" class="sm">报警次数</text>
<text x="424" y="653.3" class="e sm">2</text>
<text x="424" y="672.3" class="e sm">1.5</text>
<text x="424" y="691.3" class="e sm">1</text>
<text x="424" y="710.3" class="e sm">0.5</text>
<text x="424" y="729.3" class="e sm">0</text>
<line x1="427.5" y1="651" x2="427.5" y2="728" stroke="#d0d6de" stroke-width="0.8"/>
<path d="M425 651.5H427.5M425 670.5H427.5M425 689.5H427.5M425 708.5H427.5" stroke="#d0d6de" stroke-width="0.8"/>
<line x1="425" y1="727.5" x2="837" y2="727.5" stroke="#d0d6de" stroke-width="1"/>
<path d="M427.5 727V730M473 727V730M518.6 727V730M564.2 727V730M609.7 727V730M655.3 727V730M700.9 727V730M746.4 727V730M792 727V730M837 727V730" stroke="#d0d6de" stroke-width="0.8"/>
<rect x="522" y="689" width="16" height="38.5" rx="1.5" fill="#88cdf6"/>
<rect x="567.3" y="651" width="16" height="76.5" rx="1.5" fill="#88cdf6"/>
<rect x="612.8" y="689" width="16" height="38.5" rx="1.5" fill="#88cdf6"/>
<text x="450.5" y="736.5" class="c" style="font-size:5.2px">NO2</text>
<text x="496.5" y="736.5" class="c" style="font-size:5.2px">PM2.5</text>
<text x="541.5" y="736.5" class="c" style="font-size:5.2px">臭氧</text>
<text x="587" y="736.5" class="c" style="font-size:5.2px">SO2</text>
<text x="632" y="736.5" class="c" style="font-size:5.2px">噪音</text>
<text x="677.5" y="736.5" class="c" style="font-size:5.2px">H2S</text>
<text x="723" y="736.5" class="c" style="font-size:5.2px">空气温度</text>
<text x="768.5" y="736.5" class="c" style="font-size:5.2px">空气湿度</text>
<text x="814.5" y="736.5" class="c" style="font-size:5.2px">CO</text>

<!-- info table -->
<rect x="370.5" y="747.5" width="497" height="181" class="b2"/>
<line x1="371" y1="768.5" x2="867" y2="768.5" stroke="#1f4e86"/>
<text x="378.5" y="760.3" class="tb" style="font-size:5.8px">设备报警/预警时信息表（以下数据皆为报警/预警时的数据）</text>
<rect x="378.5" y="773.5" width="481.5" height="137.5" class="b2"/>
<g stroke="#1f4e86" stroke-width="0.8">
<line x1="379" y1="792" x2="860" y2="792"/><line x1="379" y1="810" x2="860" y2="810"/><line x1="379" y1="828" x2="860" y2="828"/><line x1="379" y1="846" x2="860" y2="846"/><line x1="379" y1="864" x2="860" y2="864"/><line x1="379" y1="892.5" x2="860" y2="892.5"/>
<path d="M406.5 774V864M434 774V864M475.5 774V864M517 774V864M554 774V864M582.5 774V864M610 774V864M638 774V864M666 774V864M697 774V864M751 774V864M805 774V864"/>
</g>
<g>
<text x="392.3" y="785" class="c tb">序 号</text>
<text x="420.3" y="785" class="c tb">噪音</text>
<text x="454.8" y="785" class="c tb">空气温度</text>
<text x="496.3" y="785" class="c tb">空气湿度</text>
<text x="535.5" y="785" class="c tb">PM2.5</text>
<text x="566.5" y="785" class="tb">O<tspan dy="1.5" style="font-size:4px">3</tspan></text>
<text x="590.5" y="785" class="tb">NO<tspan dy="1.5" style="font-size:4px">2</tspan></text>
<text x="624" y="785" class="c tb">CO</text>
<text x="646.5" y="785" class="tb">H<tspan dy="1.5" style="font-size:4px">2</tspan><tspan dy="-1.5">S</tspan></text>
<text x="676" y="785" class="tb">SO<tspan dy="1.5" style="font-size:4px">2</tspan></text>
<text x="724" y="785" class="c tb">开始报警/...</text>
<text x="778" y="785" class="c tb">结束报警/...</text>
<text x="832.5" y="785" class="c tb">报警/预警</text>
</g>
<g>
<text x="392.3" y="803.3" class="c tb">1</text><text x="420.3" y="803.3" class="c tb">12</text><text x="454.8" y="803.3" class="c tb">10</text><text x="496.3" y="803.3" class="c tb">0</text><text x="535.5" y="803.3" class="c tb">1</text><text x="568.3" y="803.3" class="c tb">56</text><text x="596.3" y="803.3" class="c tb">3</text><text x="624" y="803.3" class="c tb">24</text><text x="652" y="803.3" class="c tb">8</text><text x="681.5" y="803.3" class="c tb">5</text><text x="724" y="803.3" class="c tb">2020-09-07...</text><text x="778" y="803.3" class="c tb">2020-09-07...</text><text x="832.5" y="803.3" class="c tb">预警</text>
<text x="392.3" y="821.3" class="c tb">2</text><text x="420.3" y="821.3" class="c tb">12</text><text x="454.8" y="821.3" class="c tb">10</text><text x="496.3" y="821.3" class="c tb">0</text><text x="535.5" y="821.3" class="c tb">1</text><text x="568.3" y="821.3" class="c tb">56</text><text x="596.3" y="821.3" class="c tb">3</text><text x="624" y="821.3" class="c tb">25</text><text x="652" y="821.3" class="c tb">8</text><text x="681.5" y="821.3" class="c tb">5</text><text x="724" y="821.3" class="c tb">2020-09-07...</text><text x="778" y="821.3" class="c tb">2020-09-07...</text><text x="832.5" y="821.3" class="c tb">预警</text>
<text x="392.3" y="839.3" class="c tb">3</text><text x="420.3" y="839.3" class="c tb">11</text><text x="454.8" y="839.3" class="c tb">9</text><text x="496.3" y="839.3" class="c tb">0</text><text x="535.5" y="839.3" class="c tb">1</text><text x="568.3" y="839.3" class="c tb">44</text><text x="596.3" y="839.3" class="c tb">3</text><text x="624" y="839.3" class="c tb">22</text><text x="652" y="839.3" class="c tb">7</text><text x="681.5" y="839.3" class="c tb">5</text><text x="724" y="839.3" class="c tb">2020-01-15...</text><text x="778" y="839.3" class="c tb">2020-01-15...</text><text x="832.5" y="839.3" class="c tb">预警</text>
<text x="392.3" y="857.3" class="c tb">4</text><text x="420.3" y="857.3" class="c tb">11</text><text x="454.8" y="857.3" class="c tb">9</text><text x="496.3" y="857.3" class="c tb">0</text><text x="535.5" y="857.3" class="c tb">1</text><text x="568.3" y="857.3" class="c tb">44</text><text x="596.3" y="857.3" class="c tb">3</text><text x="624" y="857.3" class="c tb">22</text><text x="652" y="857.3" class="c tb">7</text><text x="681.5" y="857.3" class="c tb">5</text><text x="724" y="857.3" class="c tb">2020-01-15...</text><text x="778" y="857.3" class="c tb">2020-01-15...</text><text x="832.5" y="857.3" class="c tb">预警</text>
</g>
<path d="M800.5 898.5L798.5 901L800.5 903.5" fill="none" stroke="#d6dce4" stroke-width="0.9"/>
<rect x="808" y="895" width="14" height="12" fill="#2f80ed"/>
<text x="815" y="903.2" class="w c" style="font-size:5.5px">1</text>
<path d="M829.5 898.5L831.5 901L829.5 903.5" fill="none" stroke="#d6dce4" stroke-width="0.9"/>
<text x="839" y="903.2" style="font-size:5.5px">共 4 条</text>

<!-- bottom bar -->
<rect x="0" y="1017" width="883" height="10" fill="#ececf1"/>
</svg>
</body></html>
